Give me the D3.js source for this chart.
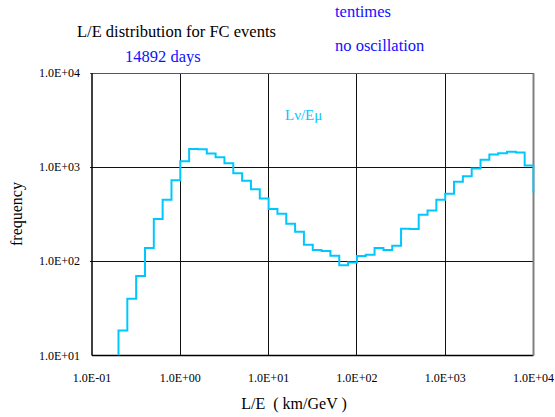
<!DOCTYPE html>
<html>
<head>
<meta charset="utf-8">
<script src="https://cdn.jsdelivr.net/npm/d3@7"></script>
<style>
  html, body { margin: 0; padding: 0; background: #fff; }
  svg { display: block; }
  text { font-family: "Liberation Serif", "Times New Roman", serif; }
</style>
</head>
<body>
<svg id="chart" width="555" height="417"></svg>
<script>
// log10 of the lower edge of each histogram bin (km/GeV)
const binLogEdges = [-0.7, -0.6, -0.5, -0.4, -0.3, -0.2, -0.1, 0.0, 0.1, 0.2,
  0.3, 0.4, 0.5, 0.6, 0.7, 0.8, 0.9, 1.0, 1.1, 1.2,
  1.3, 1.4, 1.5, 1.6, 1.7, 1.8, 1.9, 2.0, 2.1, 2.2,
  2.3, 2.4, 2.5, 2.6, 2.7, 2.8, 2.9, 3.0, 3.1, 3.2,
  3.3, 3.4, 3.5, 3.6, 3.7, 3.8, 3.9, 4.0];
// frequency in each bin
const frequency = [18.4, 40, 70, 139, 282, 452, 731, 1164, 1570, 1555,
  1402, 1282, 1108, 867, 719, 586, 467, 360, 321, 251,
  207, 150, 132, 129, 115, 91, 97.6, 114, 118, 139,
  132, 147, 222, 221, 313, 348, 452, 523, 702, 806,
  971, 1202, 1368, 1416, 1462, 1437, 1045, 553];
const lastBinUpperLog = 4.1;
const xTicks = [0.1, 1, 10, 100, 1000, 10000];
const xTickLabels = ["1.0E-01", "1.0E+00", "1.0E+01", "1.0E+02", "1.0E+03", "1.0E+04"];
const yTicks = [10, 100, 1000, 10000];
const yTickLabels = ["1.0E+01", "1.0E+02", "1.0E+03", "1.0E+04"];

const svg = d3.select("#chart");
const L = 92, R = 533.5, T = 73.3, B = 355.5;
const x = d3.scaleLog().domain([0.1, 10000]).range([L, R]);
const y = d3.scaleLog().domain([10, 10000]).range([B, T]);

// gridlines
svg.append("g").selectAll("line").data(xTicks.slice(1, -1)).join("line")
  .attr("x1", d => x(d)).attr("x2", d => x(d)).attr("y1", T).attr("y2", B)
  .attr("stroke", "#111").attr("stroke-width", 1).attr("shape-rendering", "crispEdges");
svg.append("g").selectAll("line").data(yTicks.slice(1, -1)).join("line")
  .attr("y1", d => y(d)).attr("y2", d => y(d)).attr("x1", L - 2).attr("x2", R)
  .attr("stroke", "#111").attr("stroke-width", 1).attr("shape-rendering", "crispEdges");

// frame
svg.append("line").attr("x1", L - 2).attr("x2", R).attr("y1", T).attr("y2", T)
  .attr("stroke", "#555").attr("stroke-width", 1).attr("shape-rendering", "crispEdges");
svg.append("line").attr("x1", L).attr("x2", R).attr("y1", B).attr("y2", B)
  .attr("stroke", "#000").attr("stroke-width", 1.5);
svg.append("line").attr("x1", L).attr("x2", L).attr("y1", T).attr("y2", B)
  .attr("stroke", "#000").attr("stroke-width", 1.5);
svg.append("line").attr("x1", R).attr("x2", R).attr("y1", T).attr("y2", B)
  .attr("stroke", "#808080").attr("stroke-width", 2);

// histogram
svg.append("clipPath").attr("id", "clip").append("rect")
  .attr("x", L).attr("y", T).attr("width", R - L + 1).attr("height", B - T);
const pts = [[Math.pow(10, binLogEdges[0]), 10]];
binLogEdges.forEach((e, i) => pts.push([Math.pow(10, e), frequency[i]]));
pts.push([Math.pow(10, lastBinUpperLog), frequency[frequency.length - 1]]);
const line = d3.line().x(d => x(d[0])).y(d => y(d[1])).curve(d3.curveStepAfter);
svg.append("path").attr("d", line(pts)).attr("clip-path", "url(#clip)")
  .attr("fill", "none").attr("stroke", "#00c8ff").attr("stroke-width", 2);

// tick labels
svg.append("g").selectAll("text").data(xTicks).join("text")
  .attr("x", d => x(d)).attr("y", 382).attr("text-anchor", "middle")
  .attr("font-size", 12).text((d, i) => xTickLabels[i]);
svg.append("g").selectAll("text").data(yTicks).join("text")
  .attr("x", 80).attr("y", d => y(d) + 4).attr("text-anchor", "end")
  .attr("font-size", 12).text((d, i) => yTickLabels[i]);

// axis titles
svg.append("text").attr("x", 294).attr("y", 409).attr("text-anchor", "middle")
  .attr("font-size", 16).attr("xml:space", "preserve").style("white-space", "pre")
  .text("L/E  ( km/GeV )");
svg.append("text").attr("transform", "translate(22,214) rotate(-90)")
  .attr("text-anchor", "middle").attr("font-size", 16).text("frequency");

// titles
svg.append("text").attr("x", 77).attr("y", 37).attr("font-size", 16.5).text("L/E distribution for FC events");
svg.append("text").attr("x", 125).attr("y", 62).attr("font-size", 16.5).attr("fill", "#1010ff").text("14892 days");
svg.append("text").attr("x", 335).attr("y", 17).attr("font-size", 16.5).attr("fill", "#1010ff").text("tentimes");
svg.append("text").attr("x", 335).attr("y", 51).attr("font-size", 16.5).attr("fill", "#1010ff").text("no oscillation");
svg.append("text").attr("x", 285).attr("y", 120).attr("font-size", 15).attr("fill", "#00c8ff").text("Lν/Eμ");
</script>
</body>
</html>
